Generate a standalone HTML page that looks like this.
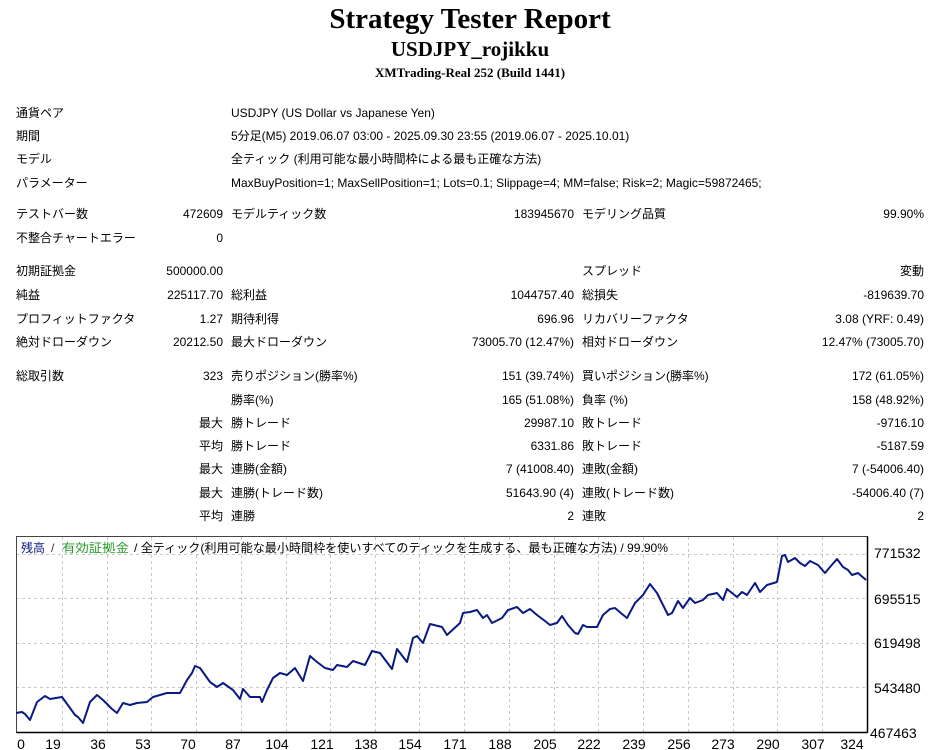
<!DOCTYPE html>
<html><head><meta charset="utf-8">
<style>
body{margin:0;width:940px;height:750px;background:#fff;position:relative;overflow:hidden;font-family:"Liberation Sans","Noto Sans CJK JP",sans-serif;font-size:12px;color:#000}
.t{position:absolute;white-space:nowrap;line-height:14px}
.r{text-align:right}
.h{position:absolute;left:0;width:940px;text-align:center;font-family:"Liberation Serif","Noto Serif CJK SC",serif;font-weight:bold;white-space:nowrap}
</style></head><body>
<div class="h" style="top:2px;font-size:29px;line-height:34px">Strategy Tester Report</div>
<div class="h" style="top:37px;font-size:21px;line-height:24px">USDJPY_rojikku</div>
<div class="h" style="top:65px;font-size:13px;line-height:16px">XMTrading-Real 252 (Build 1441)</div>

<div class="t" style="left:16px;top:106px">通貨ペア</div>
<div class="t" style="left:231px;top:106px">USDJPY (US Dollar vs Japanese Yen)</div>
<div class="t" style="left:16px;top:129px">期間</div>
<div class="t" style="left:231px;top:129px">5分足(M5) 2019.06.07 03:00 - 2025.09.30 23:55 (2019.06.07 - 2025.10.01)</div>
<div class="t" style="left:16px;top:152px">モデル</div>
<div class="t" style="left:231px;top:152px">全ティック (利用可能な最小時間枠による最も正確な方法)</div>
<div class="t" style="left:16px;top:176px">パラメーター</div>
<div class="t" style="left:231px;top:176px">MaxBuyPosition=1; MaxSellPosition=1; Lots=0.1; Slippage=4; MM=false; Risk=2; Magic=59872465;</div>

<div class="t" style="left:16px;top:207px">テストバー数</div>
<div class="t r" style="right:717px;top:207px">472609</div>
<div class="t" style="left:231px;top:207px">モデルティック数</div>
<div class="t r" style="right:366px;top:207px">183945670</div>
<div class="t" style="left:582px;top:207px">モデリング品質</div>
<div class="t r" style="right:16px;top:207px">99.90%</div>
<div class="t" style="left:16px;top:231px">不整合チャートエラー</div>
<div class="t r" style="right:717px;top:231px">0</div>

<div class="t" style="left:16px;top:264px">初期証拠金</div>
<div class="t r" style="right:717px;top:264px">500000.00</div>
<div class="t" style="left:582px;top:264px">スプレッド</div>
<div class="t r" style="right:16px;top:264px">変動</div>

<div class="t" style="left:16px;top:288px">純益</div>
<div class="t r" style="right:717px;top:288px">225117.70</div>
<div class="t" style="left:231px;top:288px">総利益</div>
<div class="t r" style="right:366px;top:288px">1044757.40</div>
<div class="t" style="left:582px;top:288px">総損失</div>
<div class="t r" style="right:16px;top:288px">-819639.70</div>

<div class="t" style="left:16px;top:312px">プロフィットファクタ</div>
<div class="t r" style="right:717px;top:312px">1.27</div>
<div class="t" style="left:231px;top:312px">期待利得</div>
<div class="t r" style="right:366px;top:312px">696.96</div>
<div class="t" style="left:582px;top:312px">リカバリーファクタ</div>
<div class="t r" style="right:16px;top:312px">3.08 (YRF: 0.49)</div>

<div class="t" style="left:16px;top:335px">絶対ドローダウン</div>
<div class="t r" style="right:717px;top:335px">20212.50</div>
<div class="t" style="left:231px;top:335px">最大ドローダウン</div>
<div class="t r" style="right:366px;top:335px">73005.70 (12.47%)</div>
<div class="t" style="left:582px;top:335px">相対ドローダウン</div>
<div class="t r" style="right:16px;top:335px">12.47% (73005.70)</div>

<div class="t" style="left:16px;top:369px">総取引数</div>
<div class="t r" style="right:717px;top:369px">323</div>
<div class="t" style="left:231px;top:369px">売りポジション(勝率%)</div>
<div class="t r" style="right:366px;top:369px">151 (39.74%)</div>
<div class="t" style="left:582px;top:369px">買いポジション(勝率%)</div>
<div class="t r" style="right:16px;top:369px">172 (61.05%)</div>

<div class="t" style="left:231px;top:393px">勝率(%)</div>
<div class="t r" style="right:366px;top:393px">165 (51.08%)</div>
<div class="t" style="left:582px;top:393px">負率 (%)</div>
<div class="t r" style="right:16px;top:393px">158 (48.92%)</div>

<div class="t r" style="right:717px;top:416px">最大</div>
<div class="t" style="left:231px;top:416px">勝トレード</div>
<div class="t r" style="right:366px;top:416px">29987.10</div>
<div class="t" style="left:582px;top:416px">敗トレード</div>
<div class="t r" style="right:16px;top:416px">-9716.10</div>

<div class="t r" style="right:717px;top:439px">平均</div>
<div class="t" style="left:231px;top:439px">勝トレード</div>
<div class="t r" style="right:366px;top:439px">6331.86</div>
<div class="t" style="left:582px;top:439px">敗トレード</div>
<div class="t r" style="right:16px;top:439px">-5187.59</div>

<div class="t r" style="right:717px;top:462px">最大</div>
<div class="t" style="left:231px;top:462px">連勝(金額)</div>
<div class="t r" style="right:366px;top:462px">7 (41008.40)</div>
<div class="t" style="left:582px;top:462px">連敗(金額)</div>
<div class="t r" style="right:16px;top:462px">7 (-54006.40)</div>

<div class="t r" style="right:717px;top:486px">最大</div>
<div class="t" style="left:231px;top:486px">連勝(トレード数)</div>
<div class="t r" style="right:366px;top:486px">51643.90 (4)</div>
<div class="t" style="left:582px;top:486px">連敗(トレード数)</div>
<div class="t r" style="right:16px;top:486px">-54006.40 (7)</div>

<div class="t r" style="right:717px;top:509px">平均</div>
<div class="t" style="left:231px;top:509px">連勝</div>
<div class="t r" style="right:366px;top:509px">2</div>
<div class="t" style="left:582px;top:509px">連敗</div>
<div class="t r" style="right:16px;top:509px">2</div>

<svg style="position:absolute;left:0;top:0" width="940" height="750" font-family="Liberation Sans, Noto Sans CJK JP, sans-serif" font-size="13">
<g stroke="#c8c8c8" stroke-dasharray="3,3" stroke-width="1">
<line x1="16" y1="554.5" x2="868" y2="554.5"/>
<line x1="16" y1="598.5" x2="868" y2="598.5"/>
<line x1="16" y1="643.5" x2="868" y2="643.5"/>
<line x1="16" y1="687.5" x2="868" y2="687.5"/>
<line x1="62.5" y1="537" x2="62.5" y2="732"/>
<line x1="107.5" y1="537" x2="107.5" y2="732"/>
<line x1="151.5" y1="537" x2="151.5" y2="732"/>
<line x1="196.5" y1="537" x2="196.5" y2="732"/>
<line x1="241.5" y1="537" x2="241.5" y2="732"/>
<line x1="286.5" y1="537" x2="286.5" y2="732"/>
<line x1="330.5" y1="537" x2="330.5" y2="732"/>
<line x1="375.5" y1="537" x2="375.5" y2="732"/>
<line x1="419.5" y1="537" x2="419.5" y2="732"/>
<line x1="464.5" y1="537" x2="464.5" y2="732"/>
<line x1="509.5" y1="537" x2="509.5" y2="732"/>
<line x1="554.5" y1="537" x2="554.5" y2="732"/>
<line x1="598.5" y1="537" x2="598.5" y2="732"/>
<line x1="643.5" y1="537" x2="643.5" y2="732"/>
<line x1="688.5" y1="537" x2="688.5" y2="732"/>
<line x1="733.5" y1="537" x2="733.5" y2="732"/>
<line x1="777.5" y1="537" x2="777.5" y2="732"/>
<line x1="822.5" y1="537" x2="822.5" y2="732"/>
</g>
<rect x="16.5" y="536.5" width="851" height="196" fill="none" stroke="#444" stroke-width="1"/>
<line x1="16.5" y1="732.5" x2="867.5" y2="732.5" stroke="#000" stroke-width="1.5"/>
<line x1="867.5" y1="536.5" x2="867.5" y2="732.5" stroke="#000" stroke-width="1.5"/>
<polyline fill="none" stroke="#0a1a80" stroke-width="2" stroke-linejoin="round" points="16,713 22,712 25,714 30,720 37,702 45,696 50,699 62,697 70,708 75,715 78,717 83,723 90,702 97,695 103,700 112,709 117,713 123,703 130,705 137,703 147,702 153,697 160,695 167,693 180,693 187,680 192,673 195,666 200,668 210,682 217,687 223,683 233,690 240,699 243,689 250,697 260,697 262,702 267,690 273,678 280,673 287,675 295,668 303,681 310,656 317,662 325,668 333,670 337,665 347,667 353,661 365,665 372,651 380,653 392,669 397,649 407,662 413,638 417,636 423,643 430,624 442,627 447,635 460,623 463,613 470,612 477,610 483,618 487,615 492,623 502,618 508,610 517,607 523,613 530,609 537,615 545,621 550,625 557,623 562,616 568,625 575,633 578,634 583,625 587,627 597,627 603,615 610,609 615,608 622,614 627,618 635,603 643,595 650,584 657,593 668,615 672,613 678,601 683,608 690,598 695,603 703,600 708,595 717,593 723,600 727,589 737,597 742,592 747,595 755,583 760,592 767,585 777,582 782,556 785,555 788,562 795,558 800,563 805,566 810,561 818,565 825,573 830,567 837,559 843,567 848,570 852,575 858,573 866,580"/>
<g font-size="12">
<text x="21" y="552" fill="#0a1a80">残高</text>
<text x="51" y="552" fill="#333">/</text>
<text x="62" y="552" fill="#2a9a2a" textLength="67" lengthAdjust="spacingAndGlyphs">有効証拠金</text>
<text x="134" y="552" fill="#000" textLength="534" lengthAdjust="spacingAndGlyphs">/ 全ティック(利用可能な最小時間枠を使いすべてのティックを生成する、最も正確な方法) / 99.90%</text>
</g>
<g fill="#000" font-size="14">
<text x="874" y="558">771532</text>
<text x="874" y="604">695515</text>
<text x="874" y="648">619498</text>
<text x="874" y="693">543480</text>
<text x="870" y="738">467463</text>
</g>
<g fill="#000" font-size="14" text-anchor="middle">
<text x="21" y="749">0</text>
<text x="53" y="749">19</text>
<text x="98" y="749">36</text>
<text x="143" y="749">53</text>
<text x="188" y="749">70</text>
<text x="233" y="749">87</text>
<text x="277" y="749">104</text>
<text x="322" y="749">121</text>
<text x="366" y="749">138</text>
<text x="410" y="749">154</text>
<text x="455" y="749">171</text>
<text x="500" y="749">188</text>
<text x="545" y="749">205</text>
<text x="589" y="749">222</text>
<text x="634" y="749">239</text>
<text x="679" y="749">256</text>
<text x="723" y="749">273</text>
<text x="768" y="749">290</text>
<text x="813" y="749">307</text>
<text x="852" y="749">324</text>
</g>
</svg>
</body></html>
